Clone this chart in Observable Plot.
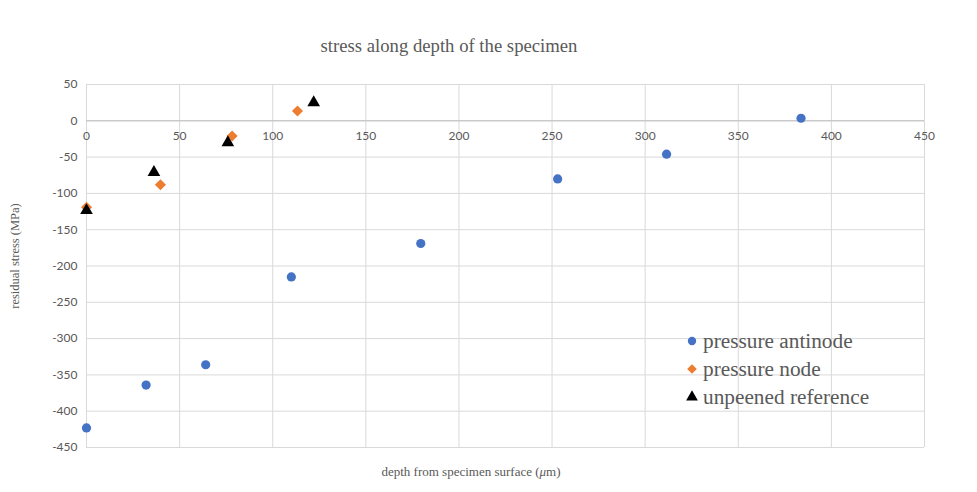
<!DOCTYPE html>
<html>
<head>
<meta charset="utf-8">
<script src="https://cdn.jsdelivr.net/npm/d3@7"></script>
<script src="https://cdn.jsdelivr.net/npm/@observablehq/plot@0.6"></script>
<style>
  html, body { margin: 0; padding: 0; background: #fff; }
  #wrap { position: relative; width: 977px; height: 492px; overflow: hidden; }
  .serif { font-family: "Liberation Serif", "DejaVu Serif", serif; color: #595959; position: absolute; white-space: nowrap; }
  #title { font-size: 18.7px; left: 449px; top: 35px; transform: translateX(-50%); }
  #ylab { font-size: 12.5px; left: 15px; top: 256px; transform: translate(-50%, -50%) rotate(-90deg); }
  #xlab { font-size: 13px; left: 471px; top: 464px; transform: translateX(-50%); }
  #legend { position: absolute; left: 684px; top: 327px; font-family: "Liberation Serif", "DejaVu Serif", serif; font-size: 21.3px; color: #595959; }
  #legend .row { height: 28px; display: flex; align-items: center; }
  #legend svg { width: 16px; height: 16px; margin-right: 3px; }
</style>
</head>
<body>
<div id="wrap">
  <div id="chart"></div>
  <div id="title" class="serif">stress along depth of the specimen</div>
  <div id="ylab" class="serif">residual stress (MPa)</div>
  <div id="xlab" class="serif">depth from specimen surface (<i>μ</i>m)</div>
  <div id="legend"></div>
</div>
<script>
// Data
const seriesNames = ["pressure antinode", "pressure node", "unpeened reference"];
const antinodeDepth  = [0, 32, 64, 110, 179.5, 253, 311.5, 383.7];
const antinodeStress = [-423, -364, -336, -215, -169, -80, -46, 3.5];
const nodeDepth  = [0, 39.7, 78.2, 113.3];
const nodeStress = [-119, -88, -21, 13.5];
const unpeenedDepth  = [0, 36.2, 75.9, 122];
const unpeenedStress = [-123.5, -71, -30, 25];
const xTicks = [0, 50, 100, 150, 200, 250, 300, 350, 400, 450];
const yTicks = [50, 0, -50, -100, -150, -200, -250, -300, -350, -400, -450];

const colors = ["#4472C4", "#ED7D31", "#000000"];
const symbols = ["circle", "diamond2", "triangle"];

const antinode = antinodeDepth.map((x, i) => ({x, y: antinodeStress[i]}));
const node = nodeDepth.map((x, i) => ({x, y: nodeStress[i]}));
const unpeened = unpeenedDepth.map((x, i) => ({x, y: unpeenedStress[i]}));

const plot = Plot.plot({
  width: 977,
  height: 492,
  marginLeft: 86,
  marginRight: 53,
  marginTop: 84,
  marginBottom: 45,
  style: { fontFamily: "Lato, 'Open Sans', sans-serif", fontSize: "12px", color: "#595959", background: "#fff" },
  x: { domain: [0, 450] },
  y: { domain: [-450, 50] },
  marks: [
    Plot.gridX(xTicks, { stroke: "#d9d9d9", strokeOpacity: 1 }),
    Plot.gridY(yTicks, { stroke: "#d9d9d9", strokeOpacity: 1 }),
    Plot.ruleY([0], { stroke: "#bfbfbf", strokeWidth: 1 }),
    Plot.axisY(yTicks, { tickSize: 0, tickPadding: 9, label: null, fill: "#595959", fontSize: 12, tickFormat: d => String(d) }),
    Plot.axisX({ ticks: [], label: null, tickSize: 0 }),
    Plot.text(xTicks, { x: d => d, y: 0, dy: 15, text: d => String(d), fill: "#595959", fontSize: 12 }),
    Plot.dot(antinode, { x: "x", y: "y", symbol: symbols[0], fill: colors[0], r: 4.6 }),
    Plot.dot(node, { x: "x", y: "y", symbol: symbols[1], fill: colors[1], r: 5 }),
    Plot.dot(unpeened, { x: "x", y: "y", symbol: symbols[2], fill: colors[2], r: 4.7 })
  ]
});
document.getElementById("chart").appendChild(plot);

// Legend
const leg = document.getElementById("legend");
seriesNames.forEach((name, i) => {
  const row = document.createElement("div");
  row.className = "row";
  const sym = d3.symbol(d3[{circle: "symbolCircle", diamond2: "symbolDiamond2", triangle: "symbolTriangle"}[symbols[i]]], [55, 60, 60][i])();
  row.innerHTML = `<svg viewBox="-8 -8 16 16"><path d="${sym}" fill="${colors[i]}"/></svg><span>${name}</span>`;
  leg.appendChild(row);
});
</script>
</body>
</html>
